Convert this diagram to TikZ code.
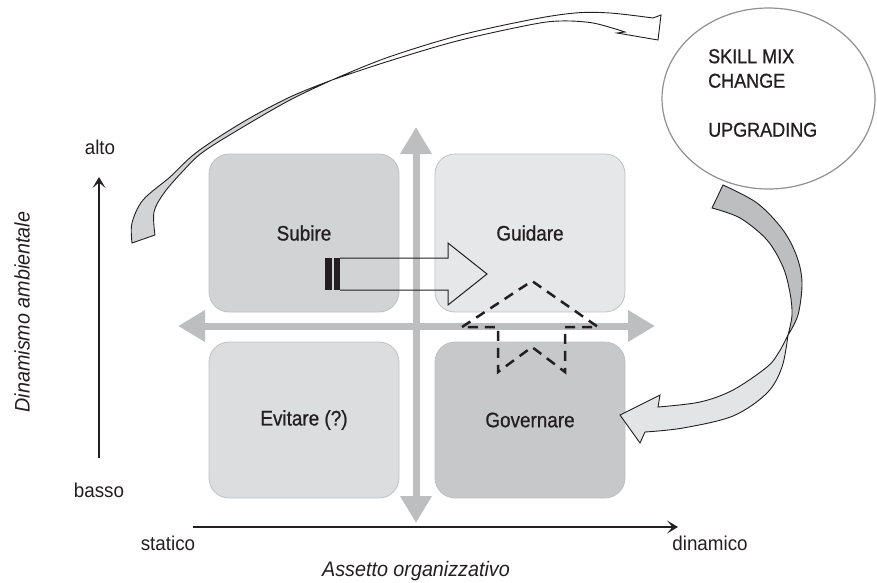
\documentclass[tikz,border=0pt]{standalone}
\usepackage{fontspec}
\setmainfont{Liberation Sans}[FakeStretch=0.94]
\newfontfamily\labelfont{Liberation Sans}[FakeStretch=0.9, FakeBold=0.8]
\usetikzlibrary{arrows.meta,shapes.geometric}
\definecolor{ink}{HTML}{231F20}
\definecolor{axisgray}{HTML}{BCBEC0}
\definecolor{boxedge}{HTML}{BFC1C3}
\definecolor{fillA}{HTML}{D1D3D4}
\definecolor{fillB}{HTML}{E6E7E8}
\definecolor{fillC}{HTML}{DCDDDE}
\definecolor{fillD}{HTML}{C7C8CA}
\definecolor{ribbonlight}{HTML}{E3E4E5}
\definecolor{ellipseedge}{HTML}{8E9092}
\begin{document}
\begin{tikzpicture}[x=1pt,y=-1pt,
  quadbox/.style={draw=boxedge, line width=0.8pt, rounded corners=20pt,
    minimum width=190pt, minimum height=158pt, inner sep=0pt,
    font=\labelfont\fontsize{21}{25}\selectfont, text=ink},
  graybar/.style={draw=axisgray, line width=7pt,
    {Triangle[width=30pt,length=27pt]}-{Triangle[width=30pt,length=27pt]}},
  axisline/.style={draw=ink, line width=2.2pt, -{Stealth[length=11pt,width=13pt,inset=5.5pt]}},
  axislabel/.style={font=\fontsize{20}{24}\selectfont, text=ink, inner sep=0pt},
  axistitle/.style={font=\fontsize{21}{25}\selectfont\itshape, text=ink, inner sep=0pt},
  ribbon/.style={draw=ink, line width=0.9pt, line join=miter},
  chevron/.style={draw=ink, line width=2.5pt, dash pattern=on 10pt off 7pt}
]
\useasboundingbox (0,0) rectangle (877,582);

% quadrants
\node[quadbox, fill=fillA, minimum height=158pt] (subire) at (304,233) {Subire};
\node[quadbox, fill=fillB, minimum height=158pt] (guidare) at (530,233) {Guidare};
\node[quadbox, fill=fillC, minimum height=156pt] (evitare) at (304,420) {Evitare (?)};
\node[quadbox, fill=fillD, minimum height=156pt] (governare) at (530,420) {Governare};

% gray cross of double arrows
\coordinate (vtop) at (416,127);
\coordinate (vbot) at (416,523);
\coordinate (hleft) at (178,326);
\coordinate (hright) at (655,326);
\draw[graybar] (hleft) -- (hright);
\draw[graybar] (vbot) -- (vtop);

% vertical axis
\coordinate (ylo) at (99,458);
\coordinate (yhi) at (99,177);
\draw[axisline] (ylo) -- (yhi);
\node[axislabel] (alto) at (100,147) {alto};
\node[axislabel] (basso) at (99,490) {basso};
\node[axistitle, rotate=90] (ytitle) at (22,312) {Dinamismo ambientale};

% horizontal axis
\coordinate (xlo) at (193,527);
\coordinate (xhi) at (678,527);
\draw[axisline] (xlo) -- (xhi);
\node[axislabel] (statico) at (168,543) {statico};
\node[axislabel] (dinamico) at (710,543) {dinamico};
\node[axistitle] (xtitle) at (416,571) {Assetto organizzativo};

% block arrow from Subire towards Guidare
\fill[ink] (325,258) rectangle (332,290);
\fill[ink] (333.5,258) rectangle (340,290);
\draw[draw=ink, line width=1pt, line join=miter]
  (340,258) -- (448,258) -- (448,243) -- (487,274) -- (448,305) -- (448,290) -- (340,290);

% dashed chevron over the axis
\draw[chevron]
  (462,327) -- (532,281) -- (598,327) -- (565,327) -- (565,372)
  -- (532,347) -- (498,372) -- (498,327) -- cycle;

% ellipse with the two strategies
\node[ellipse, draw=ellipseedge, line width=1.2pt, fill=white,
  minimum width=213pt, minimum height=181pt] (bubble) at (768.5,98.5) {};
\node[anchor=north west, align=left, inner sep=0pt,
  font=\labelfont\fontsize{20}{24.5}\selectfont, text=ink] (skills) at (708,49)
  {SKILL MIX\\CHANGE\\[24.5pt]UPGRADING};

% twisted ribbon arrow over the top: gray tail
\filldraw[ribbon, fill=fillA]
  (155,235) -- (132,243)
  -- plot[smooth, tension=0.55] coordinates {(132,243) (132,223) (143,200) (170,177) (197,152) (243,122) (290,97) (332,80)}
  -- plot[smooth, tension=0.55] coordinates {(332,80) (290,100) (243,127) (203,152) (183,171) (164,193) (154,212) (155,235)}
  -- cycle;
% twisted ribbon arrow over the top: white head
\filldraw[ribbon, fill=white]
  plot[smooth, tension=0.55] coordinates {(332,80) (386,58) (457,36) (529,20) (575,13) (610,13) (653,18)}
  -- (661,15) -- (658,40) -- (617,33)
  -- plot[smooth, tension=0.55] coordinates {(625,32) (593,23) (560,21) (529,25) (457,41) (386,62) (332,80)}
  -- cycle;

% curved arrow down to Governare: gray tail
\filldraw[ribbon, fill=axisgray]
  (712,208) -- (723,185)
  -- plot[smooth, tension=0.55] coordinates {(723,185) (757,203) (783,230) (797,257) (802,283) (798,315) (788,335)}
  -- plot[smooth, tension=0.55] coordinates {(788,335) (792,315) (790,293) (783,267) (767,240) (740,218) (712,208)}
  -- cycle;
% curved arrow down to Governare: light head
\filldraw[ribbon, fill=ribbonlight]
  plot[smooth, tension=0.55] coordinates {(788,335) (779,352) (767,367) (733,390) (700,402) (658,407)}
  -- (660,395) -- (620,415) -- (640,443) -- (645,432)
  -- plot[smooth, tension=0.55] coordinates {(645,432) (683,428) (733,416) (767,393) (782,367) (788,335)}
  -- cycle;

\end{tikzpicture}
\end{document}
